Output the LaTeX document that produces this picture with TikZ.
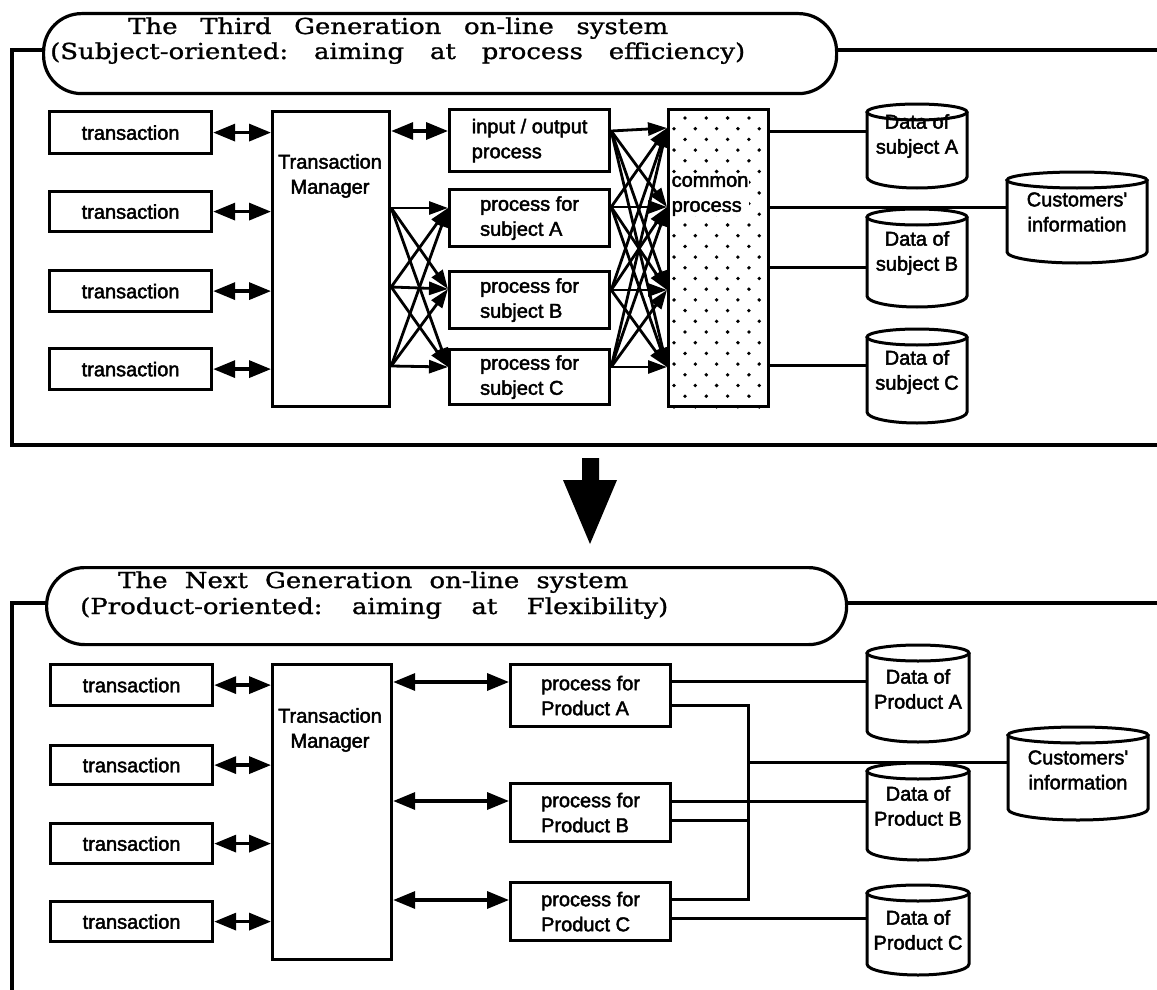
\documentclass[tikz,border=0pt]{standalone}
\usepackage{fontspec}
\setmainfont{Liberation Sans}
\newfontfamily\lab{Liberation Sans}[FakeBold=2.2]
\newfontfamily\ttl{DejaVu Serif}[FakeStretch=1.18,FakeBold=1.2]
\usetikzlibrary{arrows.meta}

% database drum: name, left x, right x, top-ellipse centre y, bottom y, text y, text
\newcommand\drum[7]{%
  \node[inner sep=0pt,outer sep=0pt,minimum width={(#3-#2)*1pt},
        minimum height={(#5-#4)*1pt},anchor=north west] (#1) at (#2,#4) {};
  \draw[link] (#2,#4) -- (#2,#5-11)
     arc[start angle=180,end angle=0,x radius={(#3-#2)/2},y radius=11] -- (#3,#4);
  \draw[link] ({(#2+#3)/2},#4) ellipse[x radius={(#3-#2)/2},y radius=8];
  \node[dbtext] at ({(#2+#3)/2},#6) {#7};}

\begin{document}
\begin{tikzpicture}[x=1pt,y=-1pt,
  box/.style={draw,line width=3.2pt,anchor=north west,inner sep=0pt,
              font=\lab\fontsize{20}{25}\selectfont,align=left},
  lbl/.style={font=\lab\fontsize{20}{25}\selectfont,align=center,inner sep=0pt},
  dbtext/.style={font=\lab\fontsize{20}{25}\selectfont,align=center,inner sep=0pt},
  titlebox/.style={draw,line width=3.2pt,rounded corners=38pt,anchor=north west,inner sep=0pt},
  ttltext/.style={font=\ttl\fontsize{22}{26}\selectfont\frenchspacing,inner sep=0pt,anchor=base west},
  frame/.style={line width=3.2pt},
  link/.style={line width=3pt},
  dbl/.style={line width=3.4pt,{Triangle[length=22pt,width=17pt]}-{Triangle[length=22pt,width=17pt]}},
  one/.style={line width=2.8pt,-{Triangle[length=19pt,width=13pt]}}]
\useasboundingbox (0,0) rectangle (1157,990);

% ---------------- third generation ----------------
\node[titlebox,minimum width=793pt,minimum height=80pt] (title1) at (42,12) {};
\node[ttltext] at (128,34) {\makebox[540pt][s]{The Third Generation on-line system}};
\node[ttltext] at (50,59) {\makebox[695pt][s]{(Subject-oriented: aiming at process efficiency)}};
\coordinate (f1a) at (12,50);
\coordinate (f1b) at (12,445);
\coordinate (f1c) at (1157,445);
\coordinate (f1d) at (1157,50);
\draw[frame] (title1.west |- f1a) -- (f1a) -- (f1b) -- (f1c);
\draw[frame] (title1.east |- f1d) -- (f1d);

\node[box,minimum width=162pt,minimum height=42pt] (t1) at (48,110) {transaction};
\node[box,minimum width=162pt,minimum height=40pt] (t2) at (48,190) {transaction};
\node[box,minimum width=162pt,minimum height=41pt] (t3) at (48,269) {transaction};
\node[box,minimum width=162pt,minimum height=41pt] (t4) at (48,347) {transaction};

\node[box,minimum width=117pt,minimum height=295pt] (tm) at (271,110) {};
\node[lbl] at (330,176) {Transaction\\Manager};

\node[box,minimum width=160pt,minimum height=62pt] (io) at (448,108) {input / output\\process};
\node[box,minimum width=160pt,minimum height=57pt] (pA) at (448,188) {process for\\subject A};
\node[box,minimum width=160pt,minimum height=57pt] (pB) at (448,270) {process for\\subject B};
\node[box,minimum width=160pt,minimum height=55pt] (pC) at (448,348) {process for\\subject C};

\node[box,minimum width=100pt,minimum height=297pt] (cp) at (667,108) {};
\begin{scope}
  \clip (cp.north west) rectangle (cp.south east);
  \foreach \r in {0,...,13} {
    \foreach \c in {0,...,3} \fill ({685+21.3*\c},{118+21.4*\r}) circle (1.9);
    \foreach \c in {0,...,4} \fill ({674+21.3*\c},{128.7+21.4*\r}) circle (1.9);
  }
\end{scope}
\node[lbl,align=left,fill=white,inner sep=0.5pt,anchor=west] at (671,196) {common\\process};

\drum{dA}{867}{967}{112}{188}{136}{Data of\\subject A}
\drum{ci}{1007}{1147}{180}{263}{212}{Customers'\\information}
\drum{dB}{867}{967}{217}{307}{253}{Data of\\subject B}
\drum{dC}{867}{967}{337}{423}{372}{Data of\\subject C}

% transactions <-> manager
\foreach \n in {t1,t2,t3,t4}
  \draw[dbl] (\n.east) -- (tm.west |- \n.east);
\draw[dbl] (tm.east |- 0,131) -- (io.west |- 0,131);
% manager -> subject processes
\foreach \s in {208,287,366}
  \foreach \t/\n in {208/pA,289/pB,367/pC}
    \draw[one] (tm.east |- 0,\s) -- (\n.west |- 0,\t);
% processes -> common process
\foreach \s/\n in {131/io,207/pA,290/pB,367/pC}
  \foreach \t in {128,207,290,367}
    \draw[one] (\n.east |- 0,\s) -- (cp.west |- 0,\t);
% common process -- data stores
\draw[link] (cp.east |- 0,131) -- (dA.west |- 0,131);
\draw[link] (cp.east |- 0,207) -- (ci.west |- 0,207);
\draw[link] (cp.east |- 0,267) -- (dB.west |- 0,267);
\draw[link] (cp.east |- 0,365) -- (dC.west |- 0,365);

% ---------------- transition arrow ----------------
\fill (582,458) -- (599,458) -- (599,480) -- (617,480) -- (590,544) -- (563,480) -- (582,480) -- cycle;

% ---------------- next generation ----------------
\node[titlebox,minimum width=800pt,minimum height=77pt] (title2) at (45,566) {};
\node[ttltext] at (118,588) {\makebox[510pt][s]{The Next Generation on-line system}};
\node[ttltext] at (80,614) {\makebox[588pt][s]{(Product-oriented: aiming at Flexibility)}};
\coordinate (f2a) at (12,603);
\coordinate (f2b) at (12,990);
\coordinate (f2d) at (1157,603);
\draw[frame] (title2.west |- f2a) -- (f2a) -- (f2b);
\draw[frame] (title2.east |- f2d) -- (f2d);

\node[box,minimum width=162pt,minimum height=41pt] (u1) at (49,663) {transaction};
\node[box,minimum width=162pt,minimum height=39pt] (u2) at (49,744) {transaction};
\node[box,minimum width=162pt,minimum height=40pt] (u3) at (49,822) {transaction};
\node[box,minimum width=162pt,minimum height=40pt] (u4) at (49,900) {transaction};

\node[box,minimum width=119pt,minimum height=295pt] (um) at (271,663) {};
\node[lbl] at (330,730) {Transaction\\Manager};

\node[box,minimum width=160pt,minimum height=62pt] (qA) at (509,663) {process for\\Product A};
\node[box,minimum width=160pt,minimum height=58pt] (qB) at (509,782) {process for\\Product B};
\node[box,minimum width=160pt,minimum height=58pt] (qC) at (509,881) {process for\\Product C};

\drum{eA}{867}{969}{653}{742}{689}{Data of\\Product A}
\drum{ei}{1008}{1148}{735}{820}{770}{Customers'\\information}
\drum{eB}{867}{969}{771}{860}{806}{Data of\\Product B}
\drum{eC}{867}{969}{893}{975}{930}{Data of\\Product C}

\foreach \n in {u1,u2,u3,u4}
  \draw[dbl] (\n.east) -- (um.west |- \n.east);
\draw[dbl] (um.east |- 0,682) -- (qA.west |- 0,682);
\draw[dbl] (um.east |- 0,801) -- (qB.west |- 0,801);
\draw[dbl] (um.east |- 0,900) -- (qC.west |- 0,900);

% shared bus to customers' information
\coordinate (busT) at (748,705);
\coordinate (busM) at (748,762);
\coordinate (busB) at (748,899);
\draw[link] (qA.east |- busT) -- (busT) -- (busB) -- (qC.east |- busB);
\draw[link] (qB.east |- 0,820) -- (busT |- 0,820);
\draw[link] (busM) -- (ei.west |- busM);
% product processes -- own data
\draw[link] (qA.east |- 0,681) -- (eA.west |- 0,681);
\draw[link] (qB.east |- 0,801) -- (eB.west |- 0,801);
\draw[link] (qC.east |- 0,918) -- (eC.west |- 0,918);
\end{tikzpicture}
\end{document}
